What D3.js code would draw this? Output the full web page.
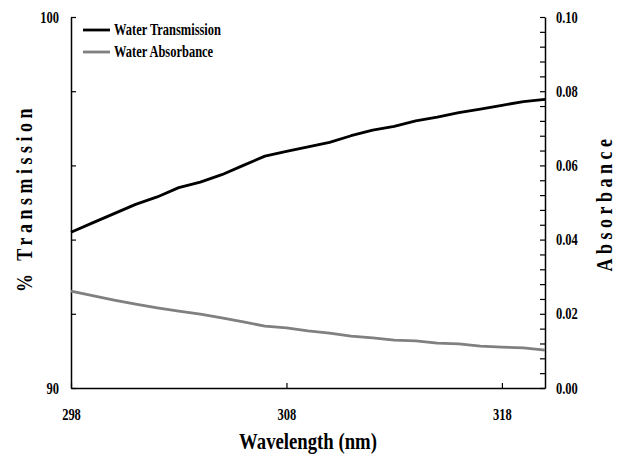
<!DOCTYPE html>
<html>
<head>
<meta charset="utf-8">
<script src="https://cdn.jsdelivr.net/npm/d3@7"></script>
<style>
  body { margin: 0; background: #fff; }
  svg text { font-family: "Liberation Serif", "Times New Roman", serif; font-weight: bold; fill: #000; }
</style>
</head>
<body>
<svg id="chart"></svg>
<script>
// wavelength (nm), one reading per nm
const wavelength = [298, 299, 300, 301, 302, 303, 304, 305, 306, 307, 308, 309, 310,
                    311, 312, 313, 314, 315, 316, 317, 318, 319, 320];
// % transmission of water (left axis)
const transmission = [94.2, 94.45, 94.7, 94.95, 95.15, 95.4, 95.55, 95.75, 96.0, 96.25, 96.38, 96.5, 96.62,
                      96.8, 96.95, 97.05, 97.2, 97.3, 97.42, 97.52, 97.62, 97.72, 97.78];
// absorbance of water (right axis)
const absorbance = [0.0261, 0.0249, 0.0237, 0.0226, 0.0216, 0.0207, 0.0199, 0.0189, 0.0178, 0.0167, 0.0162, 0.0154, 0.0148,
                    0.0140, 0.0135, 0.0129, 0.0127, 0.0121, 0.0119, 0.0113, 0.0110, 0.0108, 0.0102];

const xTicks = [298, 308, 318];
const leftTicks = [90, 92, 94, 96, 98, 100];
const leftLabels = [90, 100];
const rightTicks = d3.range(0, 26).map(i => +(i * 0.004).toFixed(3));
const rightLabels = [0, 0.02, 0.04, 0.06, 0.08, 0.1];

const series = [
  { name: "Water Transmission", values: transmission, axis: "left", color: "#000" },
  { name: "Water Absorbance", values: absorbance, axis: "right", color: "#808080" }
];

const width = 618;
const height = 461;
const squeeze = 0.78; // the original text is horizontally condensed

const svg = d3.select("#chart")
  .attr("width", width)
  .attr("height", height);

const x = d3.scaleLinear().domain([298, 320]).range([71, 545]);
const yLeft = d3.scaleLinear().domain([90, 100]).range([388, 17]);
const yRight = d3.scaleLinear().domain([0, 0.1]).range([388, 17]);

// squash a text element along its baseline, keeping its anchor point
function condense(sel) {
  sel.each(function() {
    const t = d3.select(this);
    const tx = +t.attr("x") || 0;
    const ty = +t.attr("y") || 0;
    t.attr("x", null).attr("y", null)
      .attr("transform", `translate(${tx},${ty}) scale(${squeeze},1)`);
  });
}

// axes
const xAxis = svg.append("g")
  .attr("transform", "translate(0,388)")
  .call(d3.axisBottom(x).tickValues(xTicks).tickSizeInner(-5).tickSizeOuter(0).tickPadding(21));

const leftAxis = svg.append("g")
  .attr("transform", "translate(71,0)")
  .call(d3.axisLeft(yLeft).tickValues(leftTicks).tickSizeInner(-5).tickSizeOuter(0).tickPadding(12)
    .tickFormat(d => leftLabels.includes(d) ? d : ""));

const rightAxis = svg.append("g")
  .attr("transform", "translate(545,0)")
  .call(d3.axisRight(yRight).tickValues(rightTicks).tickSizeInner(-5).tickSizeOuter(0).tickPadding(11)
    .tickFormat(d => rightLabels.some(v => Math.abs(v - d) < 1e-9) ? d3.format(".2f")(d) : ""));

[xAxis, leftAxis, rightAxis].forEach(g => {
  g.select(".domain").attr("stroke", "#000").attr("stroke-width", 1.5);
  g.selectAll(".tick line").attr("stroke", "#000").attr("stroke-width", 1.2);
  g.selectAll(".tick text")
    .attr("font-family", null)
    .style("font-size", "16px")
    .call(condense);
});

// lines
series.forEach(s => {
  const yScale = s.axis === "left" ? yLeft : yRight;
  const line = d3.line()
    .x((d, i) => x(wavelength[i]))
    .y(d => yScale(d));
  svg.append("path")
    .datum(s.values)
    .attr("fill", "none")
    .attr("stroke", s.color)
    .attr("stroke-width", 2.8)
    .attr("stroke-linejoin", "round")
    .attr("d", line);
});

// legend
const legend = svg.append("g");
series.forEach((s, i) => {
  const ly = 30 + i * 22;
  legend.append("line")
    .attr("x1", 83).attr("x2", 110)
    .attr("y1", ly).attr("y2", ly)
    .attr("stroke", s.color)
    .attr("stroke-width", 2.8);
  legend.append("text")
    .attr("x", 114).attr("y", ly + 5)
    .style("font-size", "16px")
    .text(s.name)
    .call(condense);
});

// axis titles
svg.append("text")
  .attr("text-anchor", "middle")
  .attr("transform", `translate(308,449) scale(${squeeze},1)`)
  .style("font-size", "24px")
  .text("Wavelength (nm)");

svg.append("text")
  .attr("text-anchor", "middle")
  .attr("transform", `translate(32,198) rotate(-90) scale(0.75,1)`)
  .style("font-size", "24px")
  .style("letter-spacing", "6px")
  .text("% Transmission");

svg.append("text")
  .attr("text-anchor", "middle")
  .attr("transform", `translate(612,203) rotate(-90) scale(0.75,1)`)
  .style("font-size", "24px")
  .style("letter-spacing", "6px")
  .text("Absorbance");
</script>
</body>
</html>
